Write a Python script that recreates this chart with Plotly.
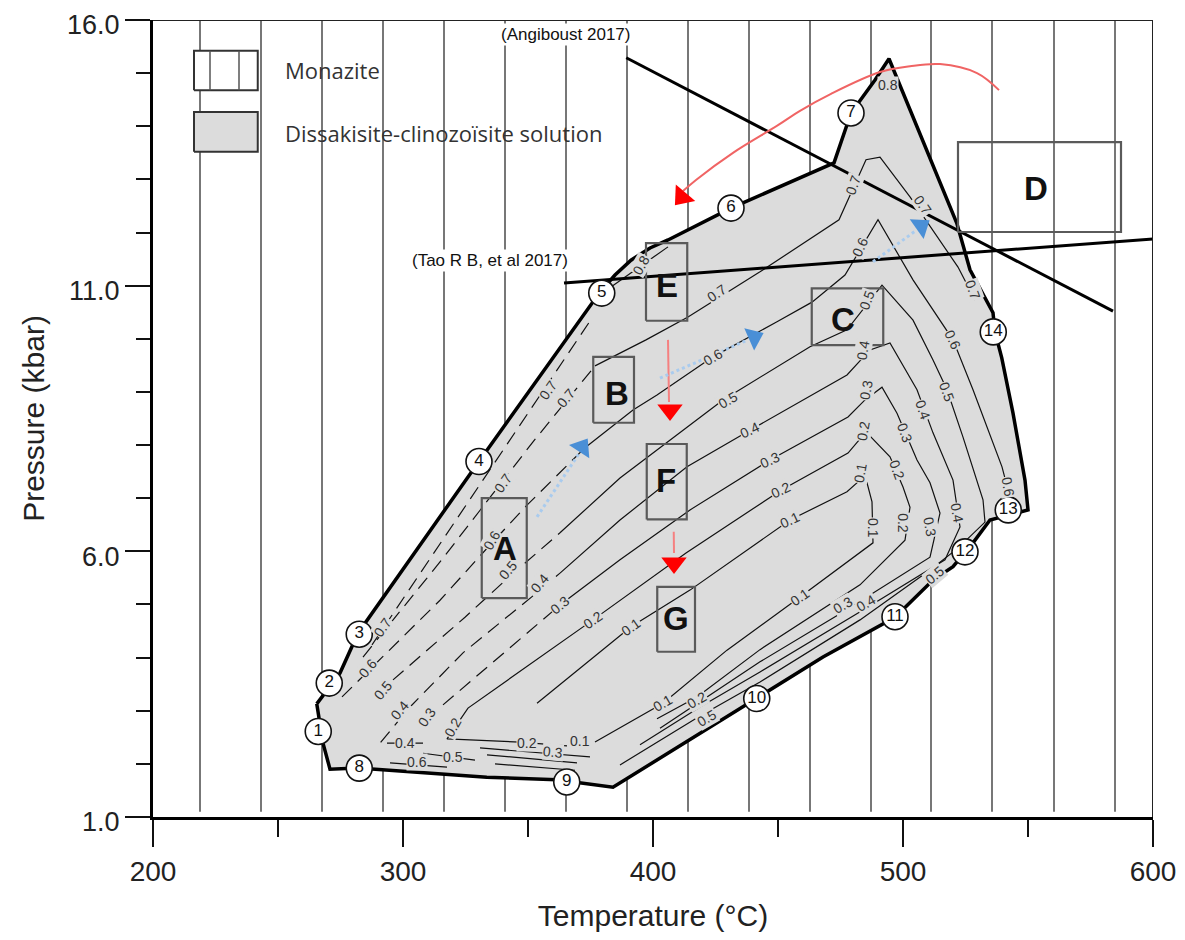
import plotly.graph_objects as go

# ---------------- axis values ----------------
x_ticks = [200, 300, 400, 500, 600]
x_minor = [250, 350, 450, 550]
y_ticks = [1, 6, 11, 16]
y_tick_text = ["1.0", "6.0", "11.0", "16.0"]
y_minor = [2, 3, 4, 5, 7, 8, 9, 10, 12, 13, 14, 15]

# monazite hatching (vertical lines), temperatures in °C
monazite_T = [218.8, 243.2, 267.6, 292.0, 316.4, 340.8, 365.2, 389.6, 414.0,
              438.4, 462.8, 487.2, 511.2, 535.6, 560.4, 584.8]
monazite_P = [1.1, 16.0]

# dissakisite-clinozoisite stability field (T °C, P kbar)
field_T = [265.5, 274.8, 282.0, 330.8, 378.8, 384.8, 391.2, 398.8, 406.0, 431.2,
           472.4, 479.2, 488.8, 494.4, 521.5, 526.8, 536.0, 536.8, 539.5, 544.0,
           548.8, 550.0, 534.8, 528.0, 520.0, 512.0, 496.8, 468.0, 441.6, 384.0,
           361.5, 333.5, 282.0, 270.8, 268.0, 265.5]
field_P = [3.13, 3.71, 4.46, 7.72, 10.88, 11.20, 11.48, 11.71, 11.86, 12.46,
           13.31, 14.25, 14.87, 15.27, 12.18, 11.30, 10.49, 10.13, 9.64, 8.60,
           7.34, 6.78, 6.59, 6.16, 5.71, 5.46, 4.76, 4.01, 3.24, 1.56,
           1.70, 1.75, 1.92, 1.90, 2.39, 3.13]

# isopleths (T, P)
iso_07_outer = [(287.6, 4.24), (375.6, 10.39)]
iso_07_dash = [(284.0, 4.01), (314.8, 5.80), (352.0, 8.06), (365.6, 8.85), (376.8, 9.49)]
iso_07 = [(376.8, 9.49), (397.2, 9.98), (414.0, 10.41), (442.8, 11.26), (474.4, 12.24),
          (485.2, 13.37), (490.8, 13.42), (502.8, 12.67), (522.0, 11.35), (528.8, 10.73)]
iso_08 = [(383.6, 10.99), (406.0, 11.73)]
iso_06_dash = [(275.6, 3.26), (296.0, 4.20), (314.8, 5.08), (334.8, 6.12), (349.6, 6.87), (372.8, 7.95)]
iso_06 = [(372.8, 7.95), (392.0, 8.66), (401.6, 8.94), (424.0, 9.66), (449.6, 10.32), (463.6, 10.69),
          (476.8, 11.20), (490.0, 12.24), (504.0, 11.11), (520.0, 9.98), (528.0, 9.04),
          (539.6, 7.59), (543.6, 6.87)]
iso_05_dash = [(296.0, 3.58), (324.8, 4.76), (342.0, 5.50), (362.8, 6.35)]
iso_05 = [(362.8, 6.35), (386.8, 7.38), (428.0, 8.85), (462.8, 9.85), (477.6, 10.17), (486.8, 10.73),
          (491.6, 11.01), (504.0, 10.35), (512.0, 9.60), (517.6, 9.04), (524.0, 8.15), (532.0, 6.97),
          (532.8, 6.55), (522.0, 6.06), (510.8, 5.65), (482.8, 4.71), (442.8, 3.54), (418.8, 2.90),
          (386.8, 1.98)]
iso_04_dash = [(308.0, 2.39), (290.8, 2.39), (302.8, 3.07), (324.0, 4.09), (354.8, 5.27), (362.8, 5.59)]
iso_04 = [(362.8, 5.59), (386.8, 6.59), (413.6, 7.59), (438.8, 8.28), (477.6, 9.32), (486.8, 9.79),
          (494.8, 9.92), (505.6, 9.04), (512.0, 8.23), (520.0, 7.34), (522.8, 6.46), (516.8, 5.84),
          (485.2, 4.93), (442.8, 3.73), (418.8, 3.07), (394.8, 2.36)]
iso_03_dash = [(316.0, 3.11), (338.8, 4.03), (362.8, 4.99)]
iso_03 = [(362.8, 4.99), (386.8, 5.84), (414.8, 6.78), (446.8, 7.72), (478.0, 8.53), (484.8, 8.85),
          (491.6, 9.09), (497.6, 8.60), (505.6, 7.72), (510.8, 7.29), (514.8, 6.72), (510.8, 5.89),
          (476.0, 4.86), (442.8, 3.92), (402.8, 2.67)]
iso_02 = [(365.6, 2.34), (346.8, 2.41), (317.6, 2.47), (326.0, 3.05), (376.0, 4.71), (413.2, 5.97),
          (451.2, 7.15), (478.0, 7.85), (485.2, 8.25), (489.6, 8.04), (494.8, 7.78), (500.0, 7.21),
          (502.8, 6.83), (500.8, 6.21), (482.8, 5.37), (442.8, 4.15), (417.6, 3.26), (401.6, 2.85)]
iso_01 = [(353.6, 3.14), (391.2, 4.58), (414.8, 5.27), (454.8, 6.59), (477.6, 7.12), (482.8, 7.34),
          (485.6, 7.29), (487.6, 6.93), (488.0, 6.16), (458.8, 5.14), (429.6, 4.14), (404.0, 3.14),
          (376.8, 2.41)]
flat_03 = [(330.8, 2.30), (374.8, 2.13)]
flat_a = [(333.6, 2.17), (369.6, 2.02)]
flat_b = [(336.8, 2.00), (368.8, 1.88)]
flat_05 = [(308.0, 2.20), (328.8, 2.07)]
flat_06 = [(294.8, 2.02), (317.6, 1.94)]

# isopleth labels
iso_label_text = ["0.7", "0.7", "0.7", "0.7", "0.7", "0.7", "0.7", "0.7", "0.8", "0.8",
                  "0.6", "0.6", "0.6", "0.6", "0.6", "0.6",
                  "0.5", "0.5", "0.5", "0.5", "0.5", "0.5", "0.5", "0.5",
                  "0.4", "0.4", "0.4", "0.4", "0.4", "0.4", "0.4", "0.4",
                  "0.3", "0.3", "0.3", "0.3", "0.3", "0.3", "0.3", "0.3",
                  "0.2", "0.2", "0.2", "0.2", "0.2", "0.2", "0.2", "0.2",
                  "0.1", "0.1", "0.1", "0.1", "0.1", "0.1", "0.1", "0.6"]
iso_label_T = [292.0, 358.0, 340.0, 365.2, 425.6, 480.0, 508.0, 528.0, 395.2, 494.0,
               286.0, 335.6, 424.0, 482.8, 520.0, 542.0,
               292.0, 342.0, 430.0, 485.6, 517.6, 421.6, 512.8, 320.0,
               298.8, 300.8, 354.8, 438.8, 484.0, 508.0, 521.6, 485.2,
               309.6, 362.8, 446.8, 485.2, 500.8, 510.8, 476.0, 360.0,
               320.0, 376.0, 451.2, 484.0, 497.6, 500.0, 417.6, 349.6,
               391.2, 454.8, 482.8, 488.0, 458.8, 404.0, 370.8, 305.6]
iso_label_P = [4.57, 9.04, 7.29, 8.89, 10.86, 12.90, 12.52, 10.92, 11.39, 14.78,
               3.80, 6.21, 9.66, 11.73, 9.98, 7.21,
               3.39, 5.65, 8.85, 10.73, 9.00, 2.86, 5.55, 2.13,
               3.01, 2.39, 5.40, 8.28, 9.79, 8.66, 6.72, 5.03,
               2.88, 4.99, 7.72, 9.04, 8.23, 6.46, 4.99, 2.22,
               2.69, 4.71, 7.15, 8.27, 7.53, 6.53, 3.20, 2.39,
               4.58, 6.59, 7.48, 6.44, 5.14, 3.14, 2.43, 2.04]
iso_label_rot = [-55, -55, -55, -50, -35, -70, 55, 70, -60, 0,
                 -50, -60, -30, -65, 65, 80,
                 -50, -50, -30, -70, 70, -30, -40, 0,
                 -50, 0, -50, -25, -80, 70, 80, -30,
                 -55, -40, -25, -80, 70, 80, -30, 5,
                 -60, -35, -25, -80, 70, 90, -30, 0,
                 -35, -25, -80, 90, -35, -30, 0, 0]

# numbered points on the field boundary
point_id = [str(i) for i in range(1, 15)]
point_T = [266.1, 270.5, 282.5, 330.4, 379.5, 431.2, 479.2, 282.5, 365.5, 441.5, 496.8, 524.8, 542.1, 536.1]
point_P = [2.61, 3.52, 4.44, 7.69, 10.86, 12.46, 14.25, 1.92, 1.66, 3.23, 4.77, 5.99, 6.78, 10.13]

# sample boxes
sample_name = ["A", "B", "C", "D", "E", "F", "G"]
sample_Tmin = [331.5, 376.1, 463.5, 522.0, 397.2, 397.5, 401.7]
sample_Tmax = [349.5, 392.4, 492.1, 587.2, 413.7, 413.5, 416.8]
sample_Pmin = [5.12, 8.42, 9.88, 12.01, 10.34, 6.60, 4.11]
sample_Pmax = [7.00, 9.66, 10.95, 13.70, 11.80, 8.02, 5.33]
sample_label_T = [340.8, 385.6, 476.0, 553.2, 405.6, 405.2, 409.2]
sample_label_P = [6.06, 8.98, 10.37, 12.82, 11.01, 7.34, 4.74]

# literature constraints
angiboust_T = [389.3, 584.0]
angiboust_P = [15.29, 10.52]
tao_T = [364.4, 600.0]
tao_P = [11.05, 11.88]

# P-T path arrows
red_arc_T = [538.4, 529.6, 514.8, 502.8, 490.8, 471.2, 458.8, 450.0, 432.0, 417.2, 412.0]
red_arc_P = [14.68, 15.00, 15.17, 15.13, 15.02, 14.61, 14.29, 14.02, 13.50, 12.99, 12.78]
red_head_T = [411.6, 406.8, 408.4]
red_head_P = [12.67, 8.66, 5.78]
red_head_rot = [220, 180, 180]
red_drop1_T = [406.0, 406.4]
red_drop1_P = [9.98, 8.81]
red_drop2_T = [408.3, 408.4]
red_drop2_P = [6.37, 5.97]
blue1_T = [353.6, 370.4]
blue1_P = [6.65, 7.84]
blue2_T = [402.8, 438.0]
blue2_P = [9.26, 9.98]
blue3_T = [488.0, 505.0]
blue3_P = [11.45, 12.03]
blue_head_T = [371.6, 440.4, 507.2]
blue_head_P = [7.96, 10.03, 12.12]
blue_head_rot = [33, 66, 55]

# legend key geometry (data units)
key_T = [216.4, 241.9]
key_mon_P = [14.68, 15.42]
key_mon_lines_T = [222.8, 234.4]
key_sol_P = [13.52, 14.27]
key_text_T = 252.0
key_text_P = [15.06, 13.88]
key_text = ["Monazite", "Dissakisite-clinozoïsite solution"]

FILL = "#dcdcdc"
FONT = "Liberation Sans, Arial, sans-serif"


def split(pts):
    return [p[0] for p in pts], [p[1] for p in pts]


fig = go.Figure()

# vertical monazite lines
vx, vy = [], []
for t in monazite_T:
    vx += [t, t, None]
    vy += [monazite_P[0], monazite_P[1], None]
fig.add_trace(go.Scatter(x=vx, y=vy, mode="lines", line=dict(color="#4a4a4a", width=1.5),
                         hoverinfo="skip", showlegend=False))

# legend keys
fig.add_trace(go.Scatter(x=[key_T[0], key_T[1], key_T[1], key_T[0], key_T[0]],
                         y=[key_mon_P[0], key_mon_P[0], key_mon_P[1], key_mon_P[1], key_mon_P[0]],
                         mode="lines", fill="toself", fillcolor="white",
                         line=dict(color="#333", width=2), hoverinfo="skip", showlegend=False))
kx, ky = [], []
for t in key_mon_lines_T:
    kx += [t, t, None]
    ky += [key_mon_P[0], key_mon_P[1], None]
fig.add_trace(go.Scatter(x=kx, y=ky, mode="lines", line=dict(color="#555", width=1.5),
                         hoverinfo="skip", showlegend=False))
fig.add_trace(go.Scatter(x=[key_T[0], key_T[1], key_T[1], key_T[0], key_T[0]],
                         y=[key_sol_P[0], key_sol_P[0], key_sol_P[1], key_sol_P[1], key_sol_P[0]],
                         mode="lines", fill="toself", fillcolor=FILL,
                         line=dict(color="#333", width=2), hoverinfo="skip", showlegend=False))

# stability field
fig.add_trace(go.Scatter(x=field_T, y=field_P, mode="lines", fill="toself", fillcolor=FILL,
                         line=dict(color="black", width=3.5), hoverinfo="skip", showlegend=False))

# isopleths
solid = [iso_07, iso_08, iso_06, iso_05, iso_04, iso_03, iso_02, iso_01,
         flat_03, flat_a, flat_b, flat_05, flat_06]
dashed = [iso_07_outer, iso_07_dash, iso_06_dash, iso_05_dash, iso_04_dash, iso_03_dash]
for pts in solid:
    x, y = split(pts)
    fig.add_trace(go.Scatter(x=x, y=y, mode="lines", line=dict(color="#111", width=1.2),
                             hoverinfo="skip", showlegend=False))
for pts in dashed:
    x, y = split(pts)
    fig.add_trace(go.Scatter(x=x, y=y, mode="lines",
                             line=dict(color="#111", width=1.2, dash="14px,8px"),
                             hoverinfo="skip", showlegend=False))

# literature lines
for xs, ys in [(angiboust_T, angiboust_P), (tao_T, tao_P)]:
    fig.add_trace(go.Scatter(x=xs, y=ys, mode="lines", line=dict(color="black", width=3),
                             hoverinfo="skip", showlegend=False))

# sample boxes
for i in range(len(sample_name)):
    a, b, c, d = sample_Tmin[i], sample_Tmax[i], sample_Pmin[i], sample_Pmax[i]
    fig.add_trace(go.Scatter(x=[a, b, b, a, a], y=[c, c, d, d, c], mode="lines",
                             line=dict(color="#5a5a5a", width=2.2),
                             hoverinfo="skip", showlegend=False))

# red path
fig.add_trace(go.Scatter(x=red_arc_T, y=red_arc_P, mode="lines",
                         line=dict(color="#f06464", width=2, shape="spline"),
                         hoverinfo="skip", showlegend=False))
for xs, ys in [(red_drop1_T, red_drop1_P), (red_drop2_T, red_drop2_P)]:
    fig.add_trace(go.Scatter(x=xs, y=ys, mode="lines", line=dict(color="#f58080", width=2),
                             hoverinfo="skip", showlegend=False))
fig.add_trace(go.Scatter(x=red_head_T, y=red_head_P, mode="markers",
                         marker=dict(symbol="triangle-up", size=22, color="#ff0000",
                                     angle=red_head_rot, line=dict(width=0)),
                         hoverinfo="skip", showlegend=False))

# blue path
for xs, ys in [(blue1_T, blue1_P), (blue2_T, blue2_P), (blue3_T, blue3_P)]:
    fig.add_trace(go.Scatter(x=xs, y=ys, mode="lines",
                             line=dict(color="#a9cbee", width=3, dash="dot"),
                             hoverinfo="skip", showlegend=False))
fig.add_trace(go.Scatter(x=blue_head_T, y=blue_head_P, mode="markers",
                         marker=dict(symbol="triangle-up", size=21, color="#4a8fd6",
                                     angle=blue_head_rot, line=dict(width=0)),
                         hoverinfo="skip", showlegend=False))

# numbered points
fig.add_trace(go.Scatter(x=point_T, y=point_P, mode="markers+text", text=point_id,
                         textposition="middle center",
                         textfont=dict(family=FONT, size=17, color="#111"),
                         marker=dict(symbol="circle", size=26, color="white",
                                     line=dict(color="#111", width=1.6)),
                         hoverinfo="skip", showlegend=False))

annotations = []
for txt, t, p, r in zip(iso_label_text, iso_label_T, iso_label_P, iso_label_rot):
    annotations.append(dict(x=t, y=p, xref="x", yref="y", text=txt, showarrow=False,
                            textangle=r, font=dict(family=FONT, size=14, color="#333"),
                            bgcolor=FILL, borderpad=0))
for n, t, p in zip(sample_name, sample_label_T, sample_label_P):
    annotations.append(dict(x=t, y=p, xref="x", yref="y", text="<b>" + n + "</b>",
                            showarrow=False, font=dict(family=FONT, size=33, color="#111")))
for txt, p in zip(key_text, key_text_P):
    annotations.append(dict(x=key_text_T, y=p, xref="x", yref="y", text=txt, showarrow=False,
                            xanchor="left", font=dict(family="Open Sans, sans-serif", size=22,
                                                      color="#333")))
annotations.append(dict(x=364.8, y=15.72, xref="x", yref="y", text="(Angiboust 2017)",
                        showarrow=False, bgcolor="white", borderpad=1,
                        font=dict(family=FONT, size=17, color="#111")))
annotations.append(dict(x=334.8, y=11.48, xref="x", yref="y", text="(Tao R B, et al 2017)",
                        showarrow=False, bgcolor="white", borderpad=1,
                        font=dict(family=FONT, size=17, color="#111")))

shapes = [
    dict(type="line", xref="x", yref="y", x0=200, x1=600, y0=16, y1=16,
         line=dict(color="#222", width=2)),
    dict(type="line", xref="x", yref="y", x0=600, x1=600, y0=1, y1=16,
         line=dict(color="#222", width=2)),
]

fig.update_layout(
    width=1177, height=932,
    margin=dict(l=145, r=32, t=12, b=123, autoexpand=False),
    paper_bgcolor="white", plot_bgcolor="white",
    showlegend=False,
    annotations=annotations,
    shapes=shapes,
    xaxis=dict(range=[200, 600], tickmode="array", tickvals=x_ticks, automargin=False,
               ticklabeloverflow="allow",
               ticks="outside", ticklen=27, tickwidth=1.8, tickcolor="#111",
               minor=dict(tickmode="array", tickvals=x_minor, ticks="outside",
                          ticklen=17, tickwidth=1.8, tickcolor="#111"),
               showgrid=False, zeroline=False, showline=True, linewidth=3, linecolor="black",
               tickfont=dict(family=FONT, size=28, color="#222"),
               title=dict(text="Temperature (°C)", standoff=20,
                          font=dict(family=FONT, size=30, color="#222"))),
    yaxis=dict(range=[1, 16], tickmode="array", tickvals=y_ticks, ticktext=y_tick_text,
               automargin=False, ticklabeloverflow="allow", ticklabelshift=5,
               ticks="outside", ticklen=25, tickwidth=1.8, tickcolor="#111",
               minor=dict(tickmode="array", tickvals=y_minor, ticks="outside",
                          ticklen=14, tickwidth=1.8, tickcolor="#111"),
               showgrid=False, zeroline=False, showline=True, linewidth=3, linecolor="black",
               tickfont=dict(family=FONT, size=27, color="#222"),
               title=dict(text="Pressure (kbar)", standoff=14,
                          font=dict(family=FONT, size=30, color="#222"))),
)

fig.write_html("out.html")
